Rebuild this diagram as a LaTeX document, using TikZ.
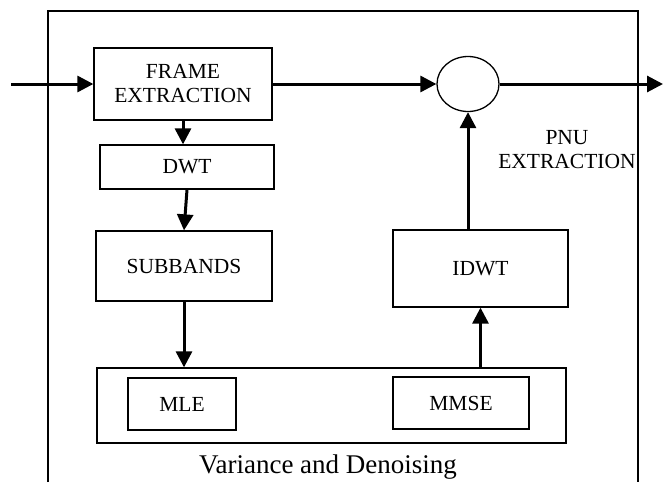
\documentclass[tikz,border=0pt]{standalone}
\usepackage{fontspec}
\setmainfont{Liberation Serif}
\usetikzlibrary{arrows.meta,shapes.geometric}
\tikzstyle{block} = [rectangle, draw = black, line width = 1.3pt, align = center, inner sep = 0pt, font = \fontsize{21.5}{24}\selectfont]
\tikzstyle{inner} = [block, line width = 2pt]
\tikzstyle{sum} = [ellipse, draw = black, line width = 1.3pt, minimum width = 62pt, minimum height = 55pt, inner sep = 0pt]
\tikzstyle{flow} = [line width = 3pt, -{Triangle[length = 16pt, width = 16pt]}]

\begin{document}
\begin{tikzpicture}[x = 1pt, y = -1pt]
        \useasboundingbox (0, 0) rectangle (666, 482);
        \draw [line width = 1.3pt] (48, 482) -- (48, 11) -- (638, 11) -- (638, 482);
        \node (frame) at (183, 84) [block, minimum width = 178pt, minimum height = 72pt] {FRAME\\EXTRACTION};
        \node (dwt) at (187, 167) [block, minimum width = 174pt, minimum height = 44pt] {DWT};
        \node (subbands) at (184, 266) [block, minimum width = 176pt, minimum height = 70pt] {SUBBANDS};
        \node (var) at (331.5, 405.5) [block, minimum width = 469pt, minimum height = 75pt] {};
        \node (mle) at (182, 404) [inner, minimum width = 108pt, minimum height = 52pt] {MLE};
        \node (mmse) at (461, 403) [inner, minimum width = 136pt, minimum height = 52pt] {MMSE};
        \node (idwt) at (480.5, 268.5) [block, minimum width = 175pt, minimum height = 77pt] {IDWT};
        \node (circ) at (468, 84) [sum] {};
        \node (pnu) at (567, 150) [align = center, font = \fontsize{21.5}{24}\selectfont] {PNU\\EXTRACTION};
        \node (varlabel) at (328, 467) [font = \fontsize{27}{30}\selectfont] {Variance and Denoising};
        \coordinate (in) at (11, 84);
        \coordinate (out) at (663, 84);
        \draw [flow] (in) -- (frame.west);
        \draw [flow] (frame.east) -- (circ.west);
        \draw [flow] (circ.east) -- (out);
        \draw [flow] (frame.south) -- (frame.south |- dwt.north);
        \draw [flow] (dwt.south) -- (subbands.north);
        \draw [flow] (subbands.south) -- (subbands.south |- var.north);
        \draw [flow] (idwt.south |- var.north) -- (idwt.south);
        \draw [flow] (circ.south |- idwt.north) -- (circ.south);
    \end{tikzpicture}
\end{document}
